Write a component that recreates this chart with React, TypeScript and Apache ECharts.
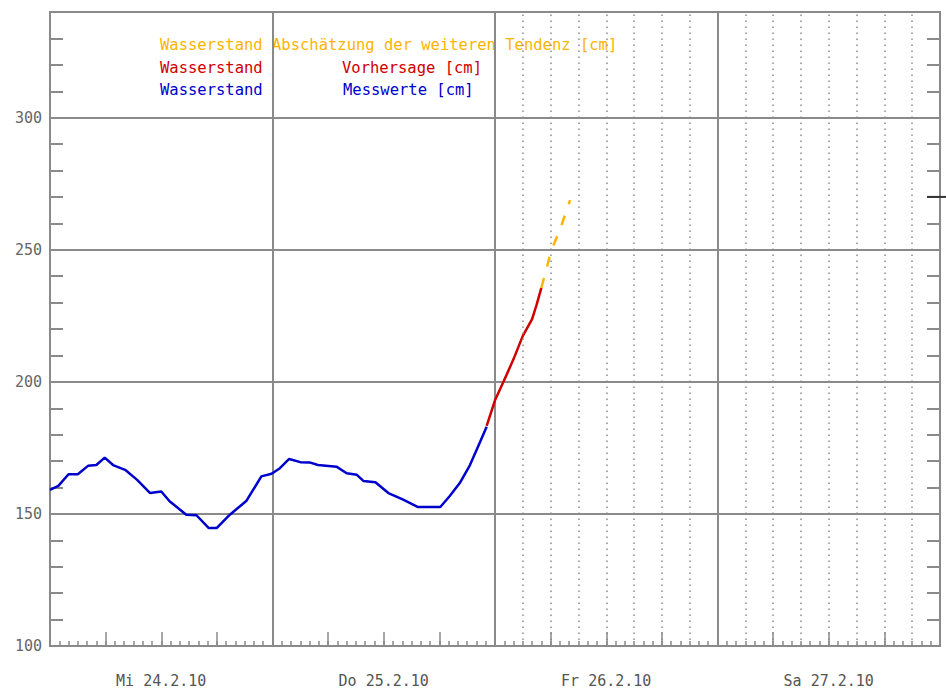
import React, { useEffect, useRef } from "react";
import * as echarts from "echarts";

// Time axis in hours from Mi 24.2.10 00:00
const dayLabels = ["Mi 24.2.10", "Do 25.2.10", "Fr 26.2.10", "Sa 27.2.10"];

const measuredHours = [0, 0.9, 2.0, 3.0, 4.1, 5.0, 5.9, 6.8, 8.1, 9.4, 10.8, 12.0, 12.9, 14.7, 15.8, 17.1, 18.0, 19.4, 21.2, 22.8, 23.9, 24.8, 25.8, 27.0, 28.0, 28.9, 30.9, 32.0, 33.1, 33.8, 35.1, 36.5, 38.1, 39.7, 42.1, 43.1, 44.2, 45.3, 46.4, 47.1];
const measuredLevels = [159.1, 160.6, 165.0, 165.0, 168.2, 168.5, 171.3, 168.5, 166.7, 162.9, 157.9, 158.5, 154.8, 149.7, 149.5, 144.7, 144.7, 149.7, 155.0, 164.2, 165.2, 167.3, 170.8, 169.6, 169.5, 168.5, 167.9, 165.4, 164.8, 162.5, 162.0, 157.9, 155.4, 152.6, 152.6, 156.7, 161.7, 168.5, 177.3, 183.0];

const forecastHours = [47.1, 48.0, 48.9, 50.0, 51.0, 52.0, 52.5, 53.0];
const forecastLevels = [183.3, 193.0, 199.9, 208.6, 217.4, 223.7, 229.3, 235.6];

const trendHours = [53.0, 54.1, 55.0, 56.1];
const trendLevels = [235.6, 250.0, 257.5, 268.8];

const forecastGridHours = [51, 54, 57, 60, 63, 66, 69, 75, 78, 81, 84, 87, 90, 93];
const rightMarkerLevel = [270];

const zip = (xs: number[], ys: number[]) => xs.map((x, i) => [x, ys[i]]);

const GRAY = "#8a8a8a";
const FONT = "DejaVu Sans Mono";
const ORANGE = "#FFB400";
const RED = "#D00000";
const BLUE = "#0000CC";

export default function App() {
  const ref = useRef<HTMLDivElement>(null);

  useEffect(() => {
    if (!ref.current) return;
    const chart = echarts.init(ref.current, undefined, { renderer: "svg" });

    const baseX = {
      type: "value" as const,
      min: 0,
      max: 96,
      position: "bottom" as const,
      offset: 0,
      gridIndex: 0,
      axisLine: { show: false, onZero: false },
      axisTick: { show: false },
      axisLabel: { show: false },
      splitLine: { show: false },
    };
    const baseY = {
      type: "value" as const,
      min: 100,
      max: 340,
      gridIndex: 0,
      offset: 0,
      axisLine: { show: false, onZero: false },
      axisTick: { show: false },
      axisLabel: { show: false },
      splitLine: { show: false },
    };

    chart.setOption({
      animation: false,
      backgroundColor: "#ffffff",
      grid: {
        left: 50,
        right: 6,
        top: 12,
        bottom: 41,
        show: true,
        borderColor: GRAY,
        borderWidth: 2,
        backgroundColor: "transparent",
      },
      xAxis: [
        {
          ...baseX,
          interval: 1,
          axisLine: { show: true, onZero: false, lineStyle: { color: GRAY, width: 2 } },
          axisTick: { show: true, inside: true, length: 5, lineStyle: { color: GRAY, width: 1.5 } },
        },
        {
          ...baseX,
          interval: 6,
          axisTick: { show: true, inside: true, length: 14, lineStyle: { color: GRAY, width: 1.5 } },
        },
        {
          ...baseX,
          interval: 24,
          splitLine: { show: true, lineStyle: { color: GRAY, width: 2 } },
        },
        {
          ...baseX,
          interval: 12,
          axisLabel: {
            show: true,
            margin: 27,
            color: "#555555",
            fontFamily: FONT,
            fontSize: 15,
            formatter: (v: number) => (v % 24 === 12 ? dayLabels[Math.floor(v / 24)] : ""),
          },
        },
      ],
      yAxis: [
        {
          ...baseY,
          position: "left",
          interval: 50,
          axisLine: { show: true, onZero: false, lineStyle: { color: GRAY, width: 2 } },
          splitLine: { show: true, lineStyle: { color: GRAY, width: 2 } },
          axisLabel: {
            show: true,
            margin: 8,
            color: "#666666",
            fontFamily: FONT,
            fontSize: 15,
            formatter: (v: number) => (v % 50 === 0 ? String(v) : ""),
          },
        },
        {
          ...baseY,
          position: "left",
          interval: 10,
          axisTick: { show: true, inside: true, length: 13, lineStyle: { color: GRAY, width: 2 } },
        },
        {
          ...baseY,
          position: "right",
          interval: 10,
          axisLine: { show: true, onZero: false, lineStyle: { color: GRAY, width: 2 } },
          axisTick: { show: true, inside: true, length: 13, lineStyle: { color: GRAY, width: 2 } },
        },
      ],
      graphic: [
        {
          type: "text",
          left: 160,
          top: 37,
          style: {
            text: "Wasserstand Abschätzung der weiteren Tendenz [cm]",
            fill: ORANGE,
            font: `15.5px "${FONT}"`,
          },
        },
        {
          type: "text",
          left: 160,
          top: 60,
          style: { text: "Wasserstand", fill: RED, font: `15.5px "${FONT}"` },
        },
        {
          type: "text",
          left: 342,
          top: 60,
          style: { text: "Vorhersage [cm]", fill: RED, font: `15.5px "${FONT}"` },
        },
        {
          type: "text",
          left: 160,
          top: 82,
          style: { text: "Wasserstand", fill: BLUE, font: `15.5px "${FONT}"` },
        },
        {
          type: "text",
          left: 343,
          top: 82,
          style: { text: "Messwerte [cm]", fill: BLUE, font: `15.5px "${FONT}"` },
        },
      ],
      series: [
        {
          type: "line",
          xAxisIndex: 0,
          yAxisIndex: 0,
          data: [],
          silent: true,
          markLine: {
            silent: true,
            symbol: ["none", "none"],
            label: { show: false },
            lineStyle: { color: "#8a8a8a", type: [1.5, 4.5], width: 1.5 },
            data: forecastGridHours.map((h) => ({ xAxis: h })),
          },
        },
        {
          name: "Messwerte",
          type: "line",
          xAxisIndex: 0,
          yAxisIndex: 0,
          data: zip(measuredHours, measuredLevels),
          showSymbol: false,
          lineStyle: { color: BLUE, width: 2.5 },
          itemStyle: { color: BLUE },
        },
        {
          name: "Vorhersage",
          type: "line",
          xAxisIndex: 0,
          yAxisIndex: 0,
          data: zip(forecastHours, forecastLevels),
          showSymbol: false,
          lineStyle: { color: RED, width: 2.5 },
          itemStyle: { color: RED },
        },
        {
          name: "Tendenz",
          type: "line",
          xAxisIndex: 0,
          yAxisIndex: 0,
          data: zip(trendHours, trendLevels),
          showSymbol: false,
          lineStyle: { color: ORANGE, width: 2.5, type: [10, 12] },
          itemStyle: { color: ORANGE },
        },
        {
          type: "custom",
          xAxisIndex: 0,
          yAxisIndex: 0,
          clip: false,
          silent: true,
          data: rightMarkerLevel.map((v) => [96, v]),
          renderItem: (_params: any, api: any) => {
            const p = api.coord([api.value(0), api.value(1)]);
            return {
              type: "line",
              shape: { x1: p[0] - 13, y1: p[1], x2: p[0] + 6, y2: p[1] },
              style: { stroke: "#333333", lineWidth: 2 },
            };
          },
        },
      ],
    });

    return () => chart.dispose();
  }, []);

  return (
    <div
      ref={ref}
      style={{ position: "fixed", left: 0, top: 0, width: 946, height: 688, background: "#fff" }}
    />
  );
}
